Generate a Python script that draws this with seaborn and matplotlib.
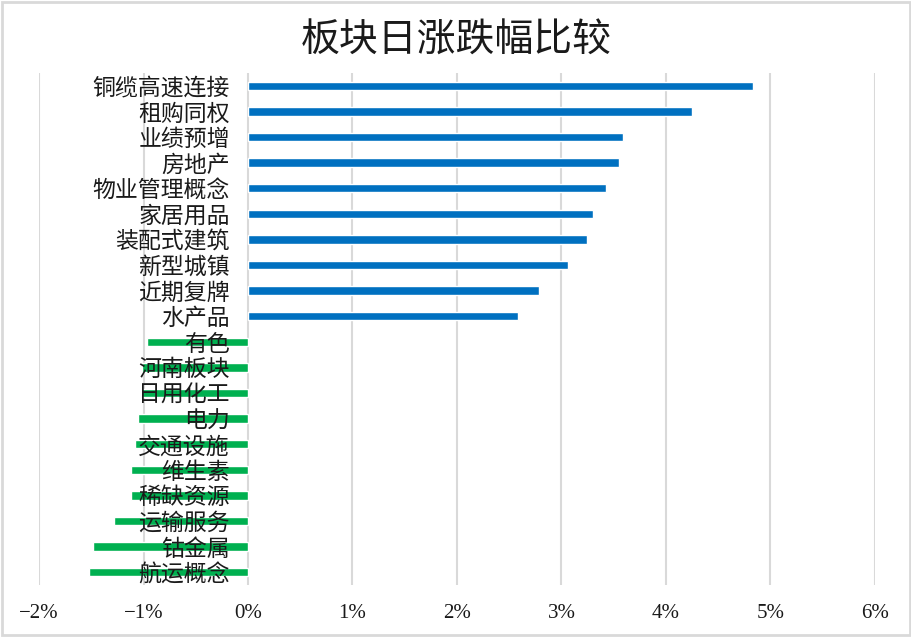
import matplotlib
matplotlib.use("Agg")
import matplotlib.pyplot as plt
import matplotlib.ticker as mticker
from matplotlib.patches import Rectangle
import seaborn as sns
import pandas as pd

# Data (daily change, %)
sectors = ["铜缆高速连接", "租购同权", "业绩预增", "房地产", "物业管理概念",
           "家居用品", "装配式建筑", "新型城镇", "近期复牌", "水产品",
           "有色", "河南板块", "日用化工", "电力", "交通设施",
           "维生素", "稀缺资源", "运输服务", "钴金属", "航运概念"]
changes = [4.83, 4.25, 3.59, 3.55, 3.43, 3.30, 3.24, 3.06, 2.78, 2.58,
           -0.97, -1.01, -1.02, -1.05, -1.08, -1.12, -1.12, -1.28, -1.48, -1.52]

df = pd.DataFrame({"sector": sectors, "change": changes})
df["dir"] = ["up" if v > 0 else "down" for v in df["change"]]

sns.set_theme(style="white")
plt.rcParams["font.family"] = ["Noto Sans CJK SC", "DejaVu Sans"]

fig = plt.figure(figsize=(9.12, 6.37), dpi=100)
ax = fig.add_axes([39 / 912, 1 - 585 / 637, 836 / 912, 512 / 637])

sns.barplot(data=df, x="change", y="sector", hue="dir", orient="h",
            palette={"up": "#0070C0", "down": "#00B050"}, dodge=False,
            width=0.33, legend=False, ax=ax, saturation=1)

ax.set_xlim(-2, 6)
ax.set_ylim(19.5, -0.5)
ax.xaxis.set_major_locator(mticker.MultipleLocator(1))
ax.xaxis.set_major_formatter(
    mticker.FuncFormatter(lambda v, p: f"{v:.0f}%".replace("-", "\u2212")))

ax.set_axisbelow(True)
ax.xaxis.grid(True, color="#D9D9D9", linewidth=1.5)
ax.yaxis.set_zorder(5)

for s in ax.spines.values():
    s.set_visible(False)
ax.spines["left"].set_position(("data", 0))

ax.tick_params(axis="y", length=0, pad=13, labelsize=16.5, labelcolor="#1a1a1a")
ax.tick_params(axis="x", length=0, pad=14, labelcolor="#1a1a1a")
for lbl in ax.get_xticklabels():
    lbl.set_family(["Liberation Serif"])
    lbl.set_fontsize(15)
for lbl in ax.get_yticklabels():
    lbl.set_y(lbl.get_position()[1])
    lbl.set_va("center_baseline")
ax.set_xlabel("")
ax.set_ylabel("")

fig.text(0.5, 1 - 41 / 637, "板块日涨跌幅比较", ha="center", va="center",
         fontsize=28, color="#1a1a1a")

fig.patches.append(Rectangle((0.002, 0.003), 0.996, 0.994, transform=fig.transFigure,
                             fill=False, edgecolor="#D9D9D9", linewidth=2))

fig.savefig("out.png", dpi=100)
